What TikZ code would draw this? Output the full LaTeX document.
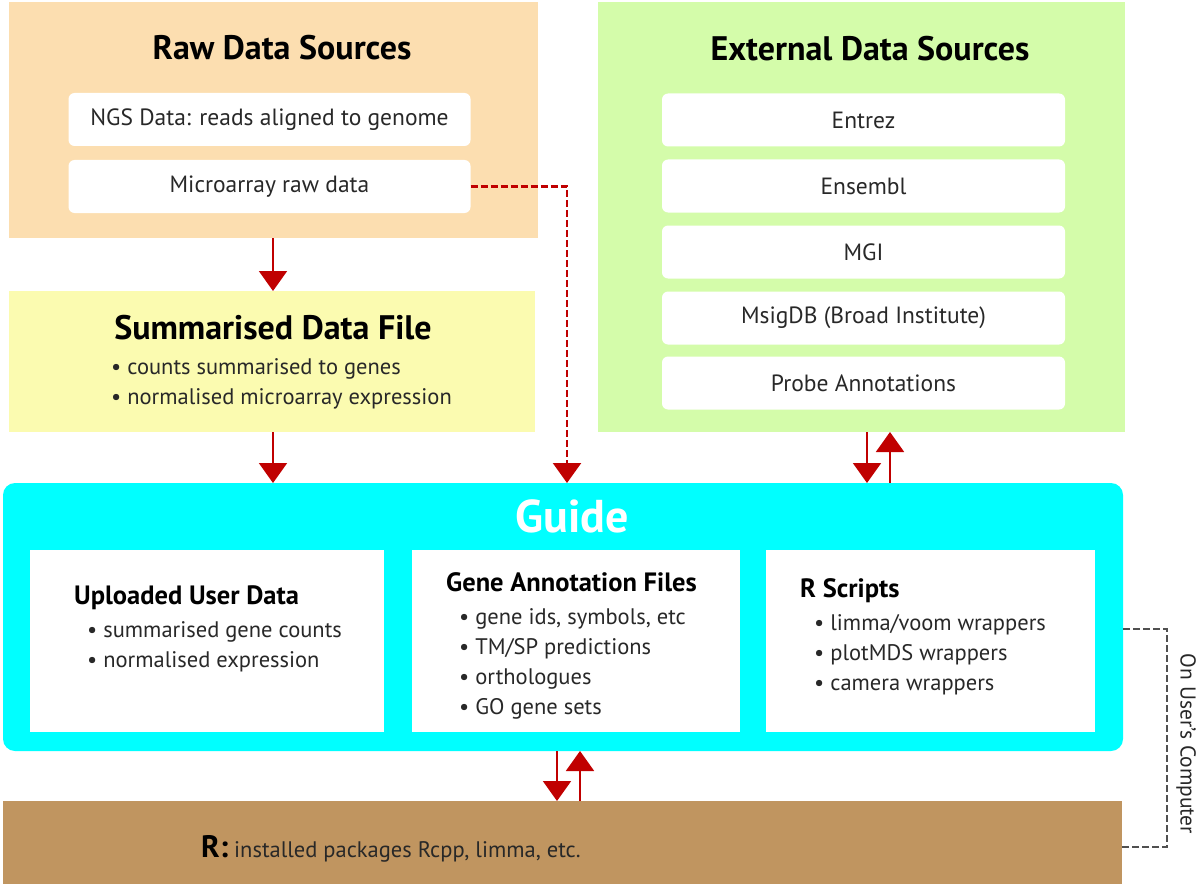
\documentclass[tikz,border=0pt]{standalone}
\usepackage{fontspec}
\setmainfont{PT Sans}
\usetikzlibrary{arrows.meta,calc}
\definecolor{peach}{RGB}{252,222,176}
\definecolor{lyellow}{RGB}{251,251,176}
\definecolor{lgreen}{RGB}{212,252,170}
\definecolor{gcyan}{RGB}{0,255,255}
\definecolor{tan}{RGB}{192,149,96}
\definecolor{dred}{RGB}{192,0,0}
\definecolor{txt}{RGB}{40,40,40}
\definecolor{gline}{RGB}{80,80,80}
\begin{document}
\begin{tikzpicture}[x=1pt,y=-1pt,
  region/.style={inner sep=0pt, outer sep=0pt},
  wbox/.style={fill=white, rounded corners=6pt, minimum width=402pt, minimum height=53pt, inner sep=0pt, outer sep=0pt, text=txt, font=\fontsize{23.5}{27}\selectfont},
  ibox/.style={fill=white, inner sep=0pt, outer sep=0pt, minimum height=182pt},
  ttl/.style={font=\bfseries\fontsize{34}{40}\selectfont, text=black, anchor=base, inner sep=0pt},
  subttl/.style={font=\bfseries\fontsize{26.5}{30}\selectfont, text=black, anchor=base west, inner sep=0pt},
  blt/.style={font=\fontsize{22.5}{27}\selectfont, text=txt, anchor=base west, inner sep=0pt},
  arr/.style={draw=dred, line width=2pt, -{Triangle[width=28pt,length=20pt]}},
  rdash/.style={draw=dred, line width=2.4pt, dash pattern=on 7pt off 3pt},
  gdash/.style={draw=gline, line width=2.6pt, dash pattern=on 7pt off 3pt}]
\fill[white] (0,0) rectangle (1200,888);
\useasboundingbox (0,0) rectangle (1200,888);

% Raw data sources
\node[region, fill=peach, minimum width=529pt, minimum height=236pt] (raw) at (273.5,120) {};
\node[ttl] (rawt) at (282,60) {Raw Data Sources};
\node[wbox] (ngs) at (269.5,119.5) {NGS Data: reads aligned to genome};
\node[wbox] (micro) at (269.5,186.5) {Microarray raw data};

% Summarised
\node[region, fill=lyellow, minimum width=526pt, minimum height=141pt] (sum) at (272,361.5) {};
\node[ttl] (sumt) at (273,339) {Summarised Data File};
\node[blt] (sumb1) at (111,374) {• counts summarised to genes};
\node[blt] (sumb2) at (111,404) {• normalised microarray expression};

% External
\node[region, fill=lgreen, minimum width=527pt, minimum height=430pt] (ext) at (861.5,217) {};
\node[ttl] (extt) at (870,61) {External Data Sources};
\node[wbox, minimum width=403pt] (entrez) at (863.5,120) {Entrez};
\node[wbox, minimum width=403pt] (ensembl) at (863.5,186) {Ensembl};
\node[wbox, minimum width=403pt] (mgi) at (863.5,252) {MGI};
\node[wbox, minimum width=403pt] (msig) at (863.5,318) {MsigDB (Broad Institute)};
\node[wbox, minimum width=403pt] (probe) at (863.5,383) {Probe Annotations};

% Guide
\node[region, fill=gcyan, rounded corners=12pt, minimum width=1120pt, minimum height=268pt] (guide) at (563,617) {};
\node[font=\bfseries\fontsize{46}{50}\selectfont, text=white, anchor=base, inner sep=0pt] (guidet) at (572,532) {Guide};
\node[ibox, minimum width=354pt] (upl) at (206.5,641) {};
\node[ibox, minimum width=328pt] (gaf) at (576,641) {};
\node[ibox, minimum width=329pt] (rsc) at (930.5,641) {};
\node[subttl] (uplt) at (74,604) {Uploaded User Data};
\node[blt] (uplb1) at (87,637) {• summarised gene counts};
\node[blt] (uplb2) at (87,667) {• normalised expression};
\node[subttl] (gaft) at (446,591) {Gene Annotation Files};
\node[blt] (gafb1) at (459,624) {• gene ids, symbols, etc};
\node[blt] (gafb2) at (459,654) {• TM/SP predictions};
\node[blt] (gafb3) at (459,684) {• orthologues};
\node[blt] (gafb4) at (459,714) {• GO gene sets};
\node[subttl] (rsct) at (800,597) {R Scripts};
\node[blt] (rscb1) at (814,630) {• limma/voom wrappers};
\node[blt] (rscb2) at (814,660) {• plotMDS wrappers};
\node[blt] (rscb3) at (814,690) {• camera wrappers};

% R
\node[region, fill=tan, minimum width=1119pt, minimum height=83pt] (rbox) at (562.5,842.5) {};
\node[anchor=base west, inner sep=0pt, text=txt] (rtxt) at (201,857) {{\bfseries\fontsize{31}{34}\selectfont\color{black}R:}{\fontsize{22.5}{26}\selectfont\ installed packages Rcpp, limma, etc.}};

% arrows
\draw[arr] (raw.south -| 273,0) -- (sum.north -| 273,0);
\draw[arr] (sum.south -| 273,0) -- (guide.north -| 273,0);
\coordinate (dturn) at (567,300);
\draw[rdash] (micro.east) -| (dturn);
\draw[arr, line width=2.4pt, dash pattern=on 7pt off 3pt] (dturn) -- (guide.north -| dturn);
\draw[arr] (ext.south -| 867,0) -- (guide.north -| 867,0);
\draw[arr] (guide.north -| 890,0) -- (ext.south -| 890,0);
\draw[arr] (guide.south -| 557,0) -- (rbox.north -| 557,0);
\draw[arr] (rbox.north -| 580,0) -- (guide.south -| 580,0);

% bracket
\coordinate (brk) at (1167,740);
\draw[gdash] (guide.east |- 0,629) -| (brk) |- (rbox.east |- 0,847);
\node[rotate=-90, font=\fontsize{21.5}{24}\selectfont, text=txt] (oulab) at (1186,744) {On User’s Computer};
\end{tikzpicture}
\end{document}
